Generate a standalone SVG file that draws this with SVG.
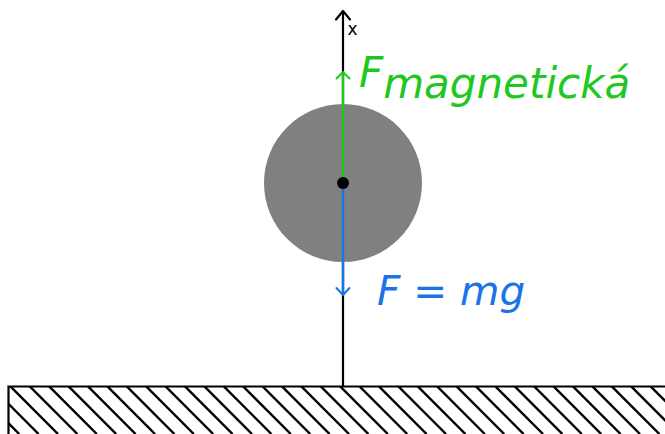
<svg xmlns="http://www.w3.org/2000/svg" width="665" height="434" viewBox="0 0 665 434">
<style>
.hatch line{stroke:#000;stroke-width:2.4}
.lbl{font-family:"DejaVu Sans",sans-serif;font-style:oblique}
.chev{fill:none;stroke-linecap:round;stroke-linejoin:round}
</style>
<defs>
<clipPath id="gclip"><rect x="9" y="387" width="660" height="50"/></clipPath>
</defs>
<rect width="665" height="434" fill="#fff"/>
<g id="ground">
<g class="hatch" clip-path="url(#gclip)">
<line x1="-28.8" y1="386" x2="19.2" y2="434"/>
<line x1="-9.4" y1="386" x2="38.6" y2="434"/>
<line x1="10" y1="386" x2="58" y2="434"/>
<line x1="29.4" y1="386" x2="77.4" y2="434"/>
<line x1="48.8" y1="386" x2="96.8" y2="434"/>
<line x1="68.2" y1="386" x2="116.2" y2="434"/>
<line x1="87.6" y1="386" x2="135.6" y2="434"/>
<line x1="107" y1="386" x2="155" y2="434"/>
<line x1="126.4" y1="386" x2="174.4" y2="434"/>
<line x1="145.8" y1="386" x2="193.8" y2="434"/>
<line x1="165.2" y1="386" x2="213.2" y2="434"/>
<line x1="184.6" y1="386" x2="232.6" y2="434"/>
<line x1="204" y1="386" x2="252" y2="434"/>
<line x1="223.4" y1="386" x2="271.4" y2="434"/>
<line x1="242.8" y1="386" x2="290.8" y2="434"/>
<line x1="262.2" y1="386" x2="310.2" y2="434"/>
<line x1="281.6" y1="386" x2="329.6" y2="434"/>
<line x1="301" y1="386" x2="349" y2="434"/>
<line x1="320.4" y1="386" x2="368.4" y2="434"/>
<line x1="339.8" y1="386" x2="387.8" y2="434"/>
<line x1="359.2" y1="386" x2="407.2" y2="434"/>
<line x1="378.6" y1="386" x2="426.6" y2="434"/>
<line x1="398" y1="386" x2="446" y2="434"/>
<line x1="417.4" y1="386" x2="465.4" y2="434"/>
<line x1="436.8" y1="386" x2="484.8" y2="434"/>
<line x1="456.2" y1="386" x2="504.2" y2="434"/>
<line x1="475.6" y1="386" x2="523.6" y2="434"/>
<line x1="495" y1="386" x2="543" y2="434"/>
<line x1="514.4" y1="386" x2="562.4" y2="434"/>
<line x1="533.8" y1="386" x2="581.8" y2="434"/>
<line x1="553.2" y1="386" x2="601.2" y2="434"/>
<line x1="572.6" y1="386" x2="620.6" y2="434"/>
<line x1="592" y1="386" x2="640" y2="434"/>
<line x1="611.4" y1="386" x2="659.4" y2="434"/>
<line x1="630.8" y1="386" x2="678.8" y2="434"/>
<line x1="650.2" y1="386" x2="698.2" y2="434"/>
</g>
<path d="M8.5,434 V386.5 H665" fill="none" stroke="#000" stroke-width="2.2"/>
</g>
<g id="axis">
<line x1="343" y1="386" x2="343" y2="11" stroke="#000" stroke-width="2.2"/>
<path class="chev" d="M336,19.5 L343,11 L350,19.5" stroke="#000" stroke-width="2.2"/>
<text x="347.5" y="35" font-family="DejaVu Sans,sans-serif" font-size="17" fill="#000">x</text>
</g>
<g id="ball">
<circle cx="343" cy="183" r="79" fill="#808080"/>
</g>
<g id="connectors">
<line x1="343" y1="183" x2="343" y2="72" stroke="#1ec81e" stroke-width="2.5"/>
<path class="chev" d="M336.5,78.5 L343,72 L349.5,78.5" stroke="#1ec81e" stroke-width="2"/>
<line x1="343" y1="183" x2="343" y2="295" stroke="#1a74e6" stroke-width="2.5"/>
<path class="chev" d="M336.5,288 L343,295 L349.5,288" stroke="#1a74e6" stroke-width="2"/>
</g>
<g id="center">
<circle cx="343" cy="183" r="6" fill="#000"/>
</g>
<g id="label-magnetic">
<text class="lbl" x="359" y="87" font-size="42" fill="#1ec81e">F<tspan dy="10.5">magnetická</tspan></text>
</g>
<g id="label-gravity">
<text class="lbl" x="377" y="305" font-size="40.5" fill="#1a74e6">F = mg</text>
</g>
</svg>
